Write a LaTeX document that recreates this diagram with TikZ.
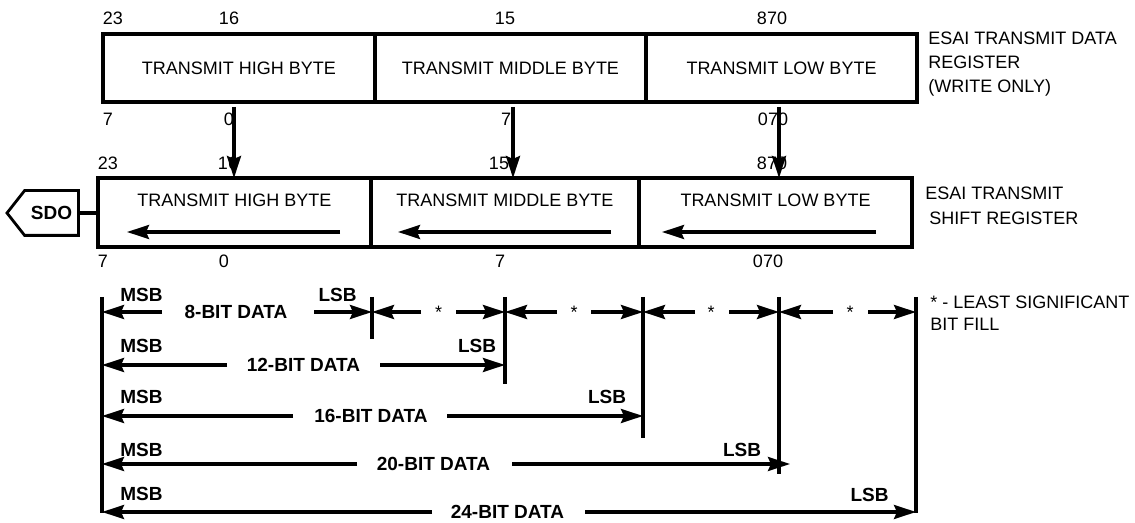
\documentclass[tikz,border=0pt]{standalone}
\usepackage{fontspec}
\setmainfont{Liberation Sans}
\usetikzlibrary{arrows.meta}
\begin{document}
\begin{tikzpicture}[x=0.5pt,y=-0.5pt,
  every node/.style={font=\fontsize{9}{12}\selectfont, inner sep=0pt},
  bl/.style={font=\fontsize{9.5}{12}\selectfont\bfseries},
  cell/.style={draw, line width=1.6pt, minimum height=34pt},
  scell/.style={draw, line width=1.6pt, minimum height=34.5pt},
  arr/.style={line width=1.6pt, -{Stealth[length=11pt,width=7pt,inset=1.5pt]}},
  ln/.style={line width=1.6pt},
  side/.style={anchor=west, align=left},
]
\useasboundingbox (0,0) rectangle (1135,523);

% ---- transmit data register ----
\node[cell, minimum width=136pt]   (dh) at (239,68)   {TRANSMIT HIGH BYTE};
\node[cell, minimum width=135.5pt] (dm) at (510.5,68) {TRANSMIT MIDDLE BYTE};
\node[cell, minimum width=135.5pt] (dl) at (781.5,68) {TRANSMIT LOW BYTE};

\node (t23) at (113,18) {23};
\node (t16) at (229,18) {16};
\node (t15) at (505,18) {15};
\node (t870) at (772,18) {870};
\node (b7a) at (108,119) {7};
\node (b0a) at (229,119) {0};
\node (b7b) at (506,119) {7};
\node (b070) at (773,119) {070};

\node[side, font=\fontsize{9}{12}\selectfont] (ldr) at (928,64) {ESAI TRANSMIT DATA\\REGISTER\\(WRITE ONLY)};

% ---- shift register ----
\node[scell, minimum width=136.5pt] (sh) at (234.5,212.5) {};
\node[scell, minimum width=134pt]   (sm) at (505,212.5)   {};
\node[scell, minimum width=136.5pt] (sl) at (775.5,212.5) {};
\node (shT) at (234.5,200) {TRANSMIT HIGH BYTE};
\node (smT) at (505,200)   {TRANSMIT MIDDLE BYTE};
\node (slT) at (775.5,200) {TRANSMIT LOW BYTE};

\node (s23) at (108,163) {23};
\node (s16) at (228,163) {16};
\node (s15) at (499,163) {15};
\node (s870) at (772,163) {870};
\node (u7a) at (103,261) {7};
\node (u0a) at (224,261) {0};
\node (u7b) at (500,261) {7};
\node (u070) at (768,261) {070};

\node[side, font=\fontsize{9}{12.5}\selectfont] (lsr) at (925,205.5) {ESAI TRANSMIT\\\hspace{2pt}SHIFT REGISTER};

% arrows inside shift register
\draw[arr] (340,232) -- (127,232);
\draw[arr] (611,232) -- (398,232);
\draw[arr] (876,232) -- (662,232);

% transfer arrows
\coordinate (a1) at (234,107); \coordinate (a1e) at (234,178);
\coordinate (a2) at (513,107); \coordinate (a2e) at (513,178);
\coordinate (a3) at (779,107); \coordinate (a3e) at (779,178);
\draw[arr] (a1) -- (a1e);
\draw[arr] (a2) -- (a2e);
\draw[arr] (a3) -- (a3e);

% SDO
\node[bl, minimum width=26.5pt, minimum height=22pt] (sdo) at (51.5,213) {SDO};
\draw[line width=1.4pt] (sdo.north west) -- (sdo.north east) -- (sdo.south east)
   -- (sdo.south west) -- (7,213) -- cycle;
\draw[ln] (sdo.east) -- (sh.west |- sdo.east);

% ---- data format section ----
\draw[ln] (102,297) coordinate (v0) -- (102,513);
\draw[ln] (372,297) coordinate (v1) -- (372,339);
\draw[ln] (505,297) coordinate (v2) -- (505,384);
\draw[ln] (643,297) coordinate (v3) -- (643,438);
\draw[ln] (779,297) coordinate (v4) -- (779,474);
\draw[ln] (916,297) coordinate (v5) -- (916,513);

% row 1: 8-bit
\node[bl] (m1) at (141.5,295) {MSB};
\node[bl] (l1) at (337.5,295) {LSB};
\node[bl] (d8) at (236,312) {8-BIT DATA};
\draw[arr] (162,312) -- (v0 |- d8);
\draw[arr] (314,312) -- (v1 |- d8);
% fill segments
\node (s1) at (438.5,312) {*};
\draw[arr] (421,312) -- (v1 |- s1);
\draw[arr] (456,312) -- (v2 |- s1);
\node (s2) at (574,312) {*};
\draw[arr] (557,312) -- (v2 |- s2);
\draw[arr] (591,312) -- (v3 |- s2);
\node (s3) at (711,312) {*};
\draw[arr] (695,312) -- (v3 |- s3);
\draw[arr] (729,312) -- (v4 |- s3);
\node (s4) at (850,312) {*};
\draw[arr] (833,312) -- (v4 |- s4);
\draw[arr] (868,312) -- (v5 |- s4);
\node[side, font=\fontsize{9}{11}\selectfont] (lfill) at (930,313.5) {* - LEAST SIGNIFICANT\\BIT FILL};

% row 2: 12-bit
\node[bl] (m2) at (141.5,346) {MSB};
\node[bl] (l2) at (477,346) {LSB};
\node[bl] (d12) at (303.5,365) {12-BIT DATA};
\draw[arr] (227,365) -- (v0 |- d12);
\draw[arr] (380,365) -- (v2 |- d12);

% row 3: 16-bit
\node[bl] (m3) at (141.5,397) {MSB};
\node[bl] (l3) at (607,397) {LSB};
\node[bl] (d16) at (371,416) {16-BIT DATA};
\draw[arr] (293,416) -- (v0 |- d16);
\draw[arr] (447,416) -- (v3 |- d16);

% row 4: 20-bit
\node[bl] (m4) at (141.5,450) {MSB};
\node[bl] (l4) at (742,450) {LSB};
\node[bl] (d20) at (433.5,464) {20-BIT DATA};
\coordinate (t20) at (790,464);
\draw[arr] (357,464) -- (v0 |- d20);
\draw[arr] (512,464) -- (t20);

% row 5: 24-bit
\node[bl] (m5) at (141.5,494) {MSB};
\node[bl] (l5) at (869.5,495) {LSB};
\node[bl] (d24) at (507.5,512) {24-BIT DATA};
\draw[arr] (432,512) -- (v0 |- d24);
\draw[arr] (585,512) -- (v5 |- d24);
\end{tikzpicture}
\end{document}
